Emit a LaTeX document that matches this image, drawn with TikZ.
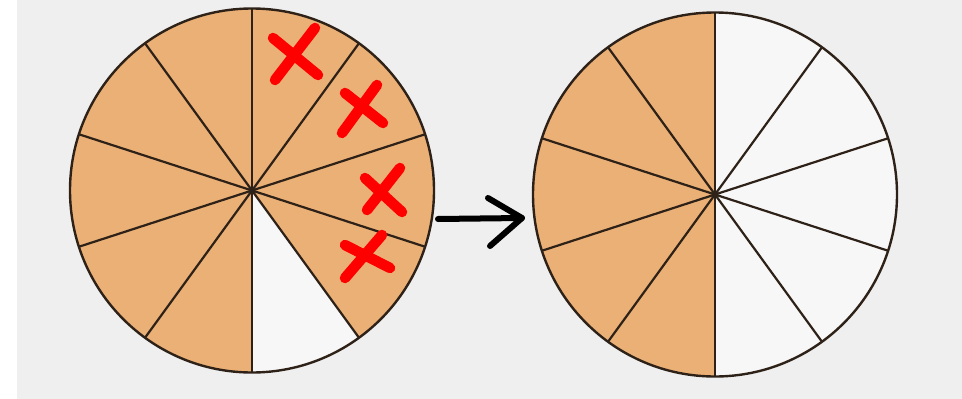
\documentclass[tikz,border=0pt]{standalone}
\begin{document}
\begin{tikzpicture}[x=1pt,y=-1pt,
  pie/.style={fill=pieorange},
  blank/.style={fill=pieblank},
  spoke/.style={draw=pieline,line width=2.2pt},
  rim/.style={draw=pieline,line width=2.4pt},
  cross/.style={draw=red,line width=10.5pt,line cap=round},
  arr/.style={draw=black,line width=6pt,line cap=round,line join=round}]
\definecolor{pieorange}{HTML}{EBB076}
\definecolor{pieblank}{HTML}{F7F7F7}
\definecolor{pieline}{HTML}{2E2218}
\definecolor{bg}{HTML}{EFEFEF}
\useasboundingbox (0,0) rectangle (962,399);
\fill[white] (0,0) rectangle (17,399);
\fill[bg] (17,0) rectangle (962,399);
\def\R{182}
% left pie (visual angle = minus the angle written here)
\coordinate (L) at (252,190.5);
\fill[pie] (L) circle[radius=\R];
\fill[blank] (L) -- ++(54:\R) arc[start angle=54,end angle=90,radius=\R] -- cycle;
\foreach \a in {18,54,90,126,162,198,234,270,306,342}
  \draw[spoke] (L) -- ++(\a:\R);
\draw[rim] (L) circle[radius=\R];
\fill[pieline] (L) circle[radius=3];
% right pie
\coordinate (Rc) at (715,194.5);
\fill[blank] (Rc) circle[radius=\R];
\fill[pie] (Rc) -- ++(90:\R) arc[start angle=90,end angle=270,radius=\R] -- cycle;
\foreach \a in {18,54,90,126,162,198,234,270,306,342}
  \draw[spoke] (Rc) -- ++(\a:\R);
\draw[rim] (Rc) circle[radius=\R];
\fill[pieline] (Rc) circle[radius=3];
% red crosses
\draw[cross] (273,38) -- (318,75);
\draw[cross] (315,28) -- (275,80);
\draw[cross] (345,93) -- (383,123);
\draw[cross] (377,85) -- (342,133);
\draw[cross] (365,178) -- (402,212);
\draw[cross] (400,168) -- (367,210);
\draw[cross] (345,245) -- (390,268);
\draw[cross] (382,235) -- (345,278);
% arrow
\coordinate (a0) at (438,219);
\coordinate (a1) at (522,218);
\coordinate (h1) at (488,198);
\coordinate (h2) at (490,246);
\draw[arr] (a0) -- (a1);
\draw[arr] (h1) -- (a1) -- (h2);
\end{tikzpicture}
\end{document}
